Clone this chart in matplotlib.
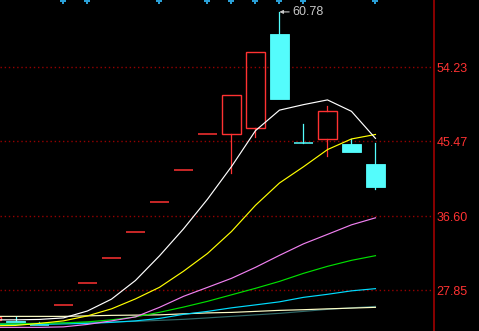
import matplotlib
matplotlib.use("Agg")
import matplotlib.pyplot as plt
import matplotlib.transforms as mtrans
from matplotlib.patches import Rectangle

plt.rcParams['font.family'] = ['Liberation Sans', 'DejaVu Sans']

# ---- data ----
idx = list(range(-1, 16))
opens  = [24.37, 24.20, 23.80, 26.14, 28.75, 31.63, 34.79, 38.27, 42.10, 46.31,
          46.38, 47.04, 58.13, 45.33, 45.79, 45.11, 42.83]
highs  = [24.68, 24.68, 24.10, 26.14, 28.75, 31.63, 34.79, 38.27, 42.10, 46.31,
          50.94, 56.03, 60.78, 47.48, 49.69, 45.79, 45.32]
lows   = [24.37, 23.97, 23.70, 26.14, 28.75, 31.63, 34.79, 38.27, 42.10, 46.31,
          41.72, 46.03, 50.44, 45.32, 43.73, 44.20, 39.83]
closes = [24.68, 23.97, 23.76, 26.14, 28.75, 31.63, 34.79, 38.27, 42.10, 46.31,
          50.94, 56.03, 50.44, 45.32, 49.10, 44.20, 40.06]

ma5   = [24.35, 24.35, 24.40, 24.58, 25.40, 26.80, 29.01, 31.92, 35.11, 38.62,
         42.48, 46.73, 49.16, 49.81, 50.37, 49.02, 45.82]
ma10  = [23.65, 23.69, 23.93, 24.23, 24.82, 25.65, 26.83, 28.20, 30.10, 32.20,
         34.80, 37.90, 40.54, 42.46, 44.49, 45.75, 46.28]
ma20  = [23.46, 23.46, 23.46, 23.52, 23.81, 24.23, 24.70, 25.83, 27.13, 28.19,
         29.26, 30.56, 31.98, 33.34, 34.46, 35.59, 36.42]
ma30  = [23.85, 23.87, 23.93, 23.99, 24.11, 24.35, 24.70, 25.24, 25.86, 26.54,
         27.31, 28.08, 28.90, 29.85, 30.68, 31.39, 31.94]
ma60  = [23.81, 23.81, 23.81, 23.87, 23.93, 24.05, 24.23, 24.52, 25.00, 25.35,
         25.77, 26.12, 26.48, 27.01, 27.37, 27.78, 28.04]
ma120 = [24.76, 24.76, 24.76, 24.76, 24.82, 24.88, 24.91, 24.94, 25.06, 25.17,
         25.23, 25.35, 25.47, 25.55, 25.65, 25.74, 25.83]
ma250 = [23.93, 23.93, 23.93, 23.99, 24.05, 24.11, 24.17, 24.29, 24.41, 24.58,
         24.76, 24.94, 25.12, 25.35, 25.59, 25.77, 25.94]

ytick_vals = [27.85, 36.60, 45.47, 54.23]
ytick_labels = ["27.85", "36.60", "45.47", "54.23"]
signal_idx = [2, 3, 6, 8, 9, 10, 11, 12, 15]
peak_label = "60.78"

# ---- styling ----
RED = '#ff3232'
CYAN = '#54fcfc'
GRID = '#940000'

fig = plt.figure(figsize=(4.79, 3.31), dpi=100, facecolor='black')
ax = fig.add_axes([0, 0, 434/479, 1], facecolor='black')
ax.set_xlim(-0.646, 17.44)
ax.set_ylim(23.03, 62.19)

for v in ytick_vals:
    ax.axhline(v, color=GRID, lw=1.0, ls=(0, (1, 2)), zorder=1)

w = 0.76
for i, o, h, l, c in zip(idx, opens, highs, lows, closes):
    if c == o:
        ax.plot([i - w/2, i + w/2], [c, c], color=RED, lw=1.1, zorder=2,
                solid_capstyle='butt')
        continue
    up = c > o
    col = RED if up else CYAN
    top, bot = max(o, c), min(o, c)
    if h > top:
        ax.plot([i, i], [top, h], color=col, lw=0.9, zorder=2)
    if l < bot:
        ax.plot([i, i], [l, bot], color=col, lw=0.9, zorder=2)
    if top - bot < 0.05:
        ax.plot([i - w/2, i + w/2], [c, c], color=col, lw=1.1, zorder=2,
                solid_capstyle='butt')
    elif up:
        ax.add_patch(Rectangle((i - w/2, bot), w, top - bot, fill=False,
                               edgecolor=col, lw=1.0, zorder=2))
    else:
        ax.add_patch(Rectangle((i - w/2, bot), w, top - bot, facecolor=col,
                               edgecolor=col, lw=0.6, zorder=2))

lines = [(ma250, '#2f6868'), (ma120, '#ffffc8'), (ma60, '#00dcff'),
         (ma30, '#00e000'), (ma20, '#f080f0'), (ma10, '#ffff00'),
         (ma5, '#ffffff')]
for vals, col in lines:
    ax.plot(idx, vals, color=col, lw=0.85, zorder=3)

# peak annotation
pk = highs.index(max(highs))
ax.annotate(peak_label, xy=(idx[pk], max(highs)), xytext=(idx[pk] + 0.52, max(highs)),
            color='#c8c8c8', fontsize=9, va='center', ha='left',
            arrowprops=dict(arrowstyle='-|>', color='#c8c8c8', lw=0.8,
                            mutation_scale=5, shrinkA=0, shrinkB=0))

# signal markers on top
trans = mtrans.blended_transform_factory(ax.transData, ax.transAxes)
ax.plot(signal_idx, [0.997] * len(signal_idx), ls='none', marker='P',
        markersize=4, color='#2a9fd6', markeredgewidth=0, transform=trans,
        clip_on=False, zorder=5)

for s in ['top', 'left', 'bottom']:
    ax.spines[s].set_visible(False)
ax.spines['right'].set_color('#a00000')
ax.spines['right'].set_linewidth(1.2)
ax.set_xticks([])
ax.yaxis.tick_right()
ax.set_yticks(ytick_vals)
ax.set_yticklabels(ytick_labels)
ax.tick_params(axis='y', length=0, pad=2, labelcolor=RED, labelsize=9)

fig.savefig('out.png', dpi=100, facecolor='black')
